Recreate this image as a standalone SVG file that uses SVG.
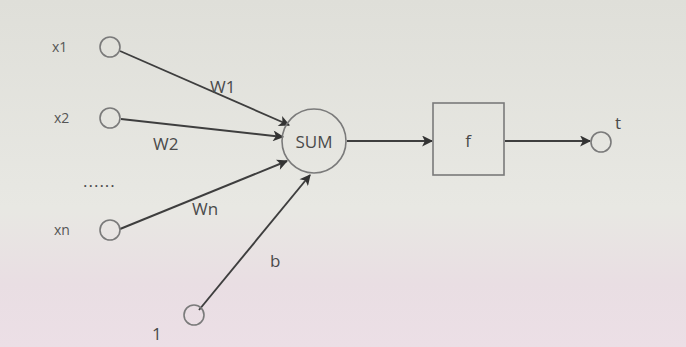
<svg xmlns="http://www.w3.org/2000/svg" width="686" height="347" viewBox="0 0 686 347">
<defs>
<linearGradient id="bg" x1="0" y1="0" x2="0" y2="1">
<stop offset="0" stop-color="#dfdfd9"/>
<stop offset="0.6" stop-color="#e8e8e3"/>
<stop offset="0.82" stop-color="#e9dee3"/>
<stop offset="1" stop-color="#ecdfe6"/>
</linearGradient>
<marker id="ah" viewBox="0 0 10 10" refX="9" refY="5" markerWidth="12" markerHeight="11" markerUnits="userSpaceOnUse" orient="auto">
<path d="M0,0 L10,5 L0,10 L2.5,5 Z" fill="#333"/>
</marker>
<style>
.in{fill:none;stroke:#7a7a7a;stroke-width:1.6}
.ln{stroke:#3e3e3e;stroke-width:1.9;fill:none;marker-end:url(#ah)}
.t{font-family:"Open Sans","Liberation Sans",sans-serif;fill:#555;font-size:14px}
.w{font-family:"Open Sans","Liberation Sans",sans-serif;fill:#4a4a4a;font-size:17px}
</style>
</defs>
<rect width="686" height="347" fill="url(#bg)"/>
<g id="connectors">
<line class="ln" x1="120" y1="51" x2="289" y2="125"/>
<line class="ln" x1="121" y1="119" x2="283" y2="137"/>
<line class="ln" x1="120" y1="229" x2="287" y2="161"/>
<line class="ln" x1="199" y1="310" x2="310" y2="175"/>
<line class="ln" x1="347" y1="141" x2="432" y2="141"/>
<line class="ln" x1="505" y1="141" x2="590" y2="141"/>
</g>
<g id="x1"><circle class="in" cx="110" cy="47" r="10"/><text class="t" x="52" y="52">x1</text></g>
<g id="x2"><circle class="in" cx="110" cy="118" r="10"/><text class="t" x="54" y="123">x2</text></g>
<g id="dots"><text class="w" x="83" y="187" letter-spacing="1">......</text></g>
<g id="xn"><circle class="in" cx="110" cy="230" r="10"/><text class="t" x="54" y="235">xn</text></g>
<g id="one"><circle class="in" cx="194" cy="315" r="10"/><text class="w" x="152" y="340" font-size="19">1</text></g>
<g id="sum"><circle class="in" cx="314" cy="141" r="32" fill="none"/><text class="w" x="314" y="148" text-anchor="middle" font-size="20">SUM</text></g>
<g id="f"><rect x="433" y="103" width="71" height="72" fill="none" stroke="#7a7a7a" stroke-width="1.6"/><text class="w" x="468" y="147" text-anchor="middle" font-size="19">f</text></g>
<g id="out"><circle class="in" cx="601" cy="142" r="10"/><text class="w" x="615" y="129">t</text></g>
<g id="labels">
<text class="w" x="210" y="93">W1</text>
<text class="w" x="153" y="150">W2</text>
<text class="w" x="192" y="215">Wn</text>
<text class="w" x="270" y="267" font-size="19">b</text>
</g>
</svg>
